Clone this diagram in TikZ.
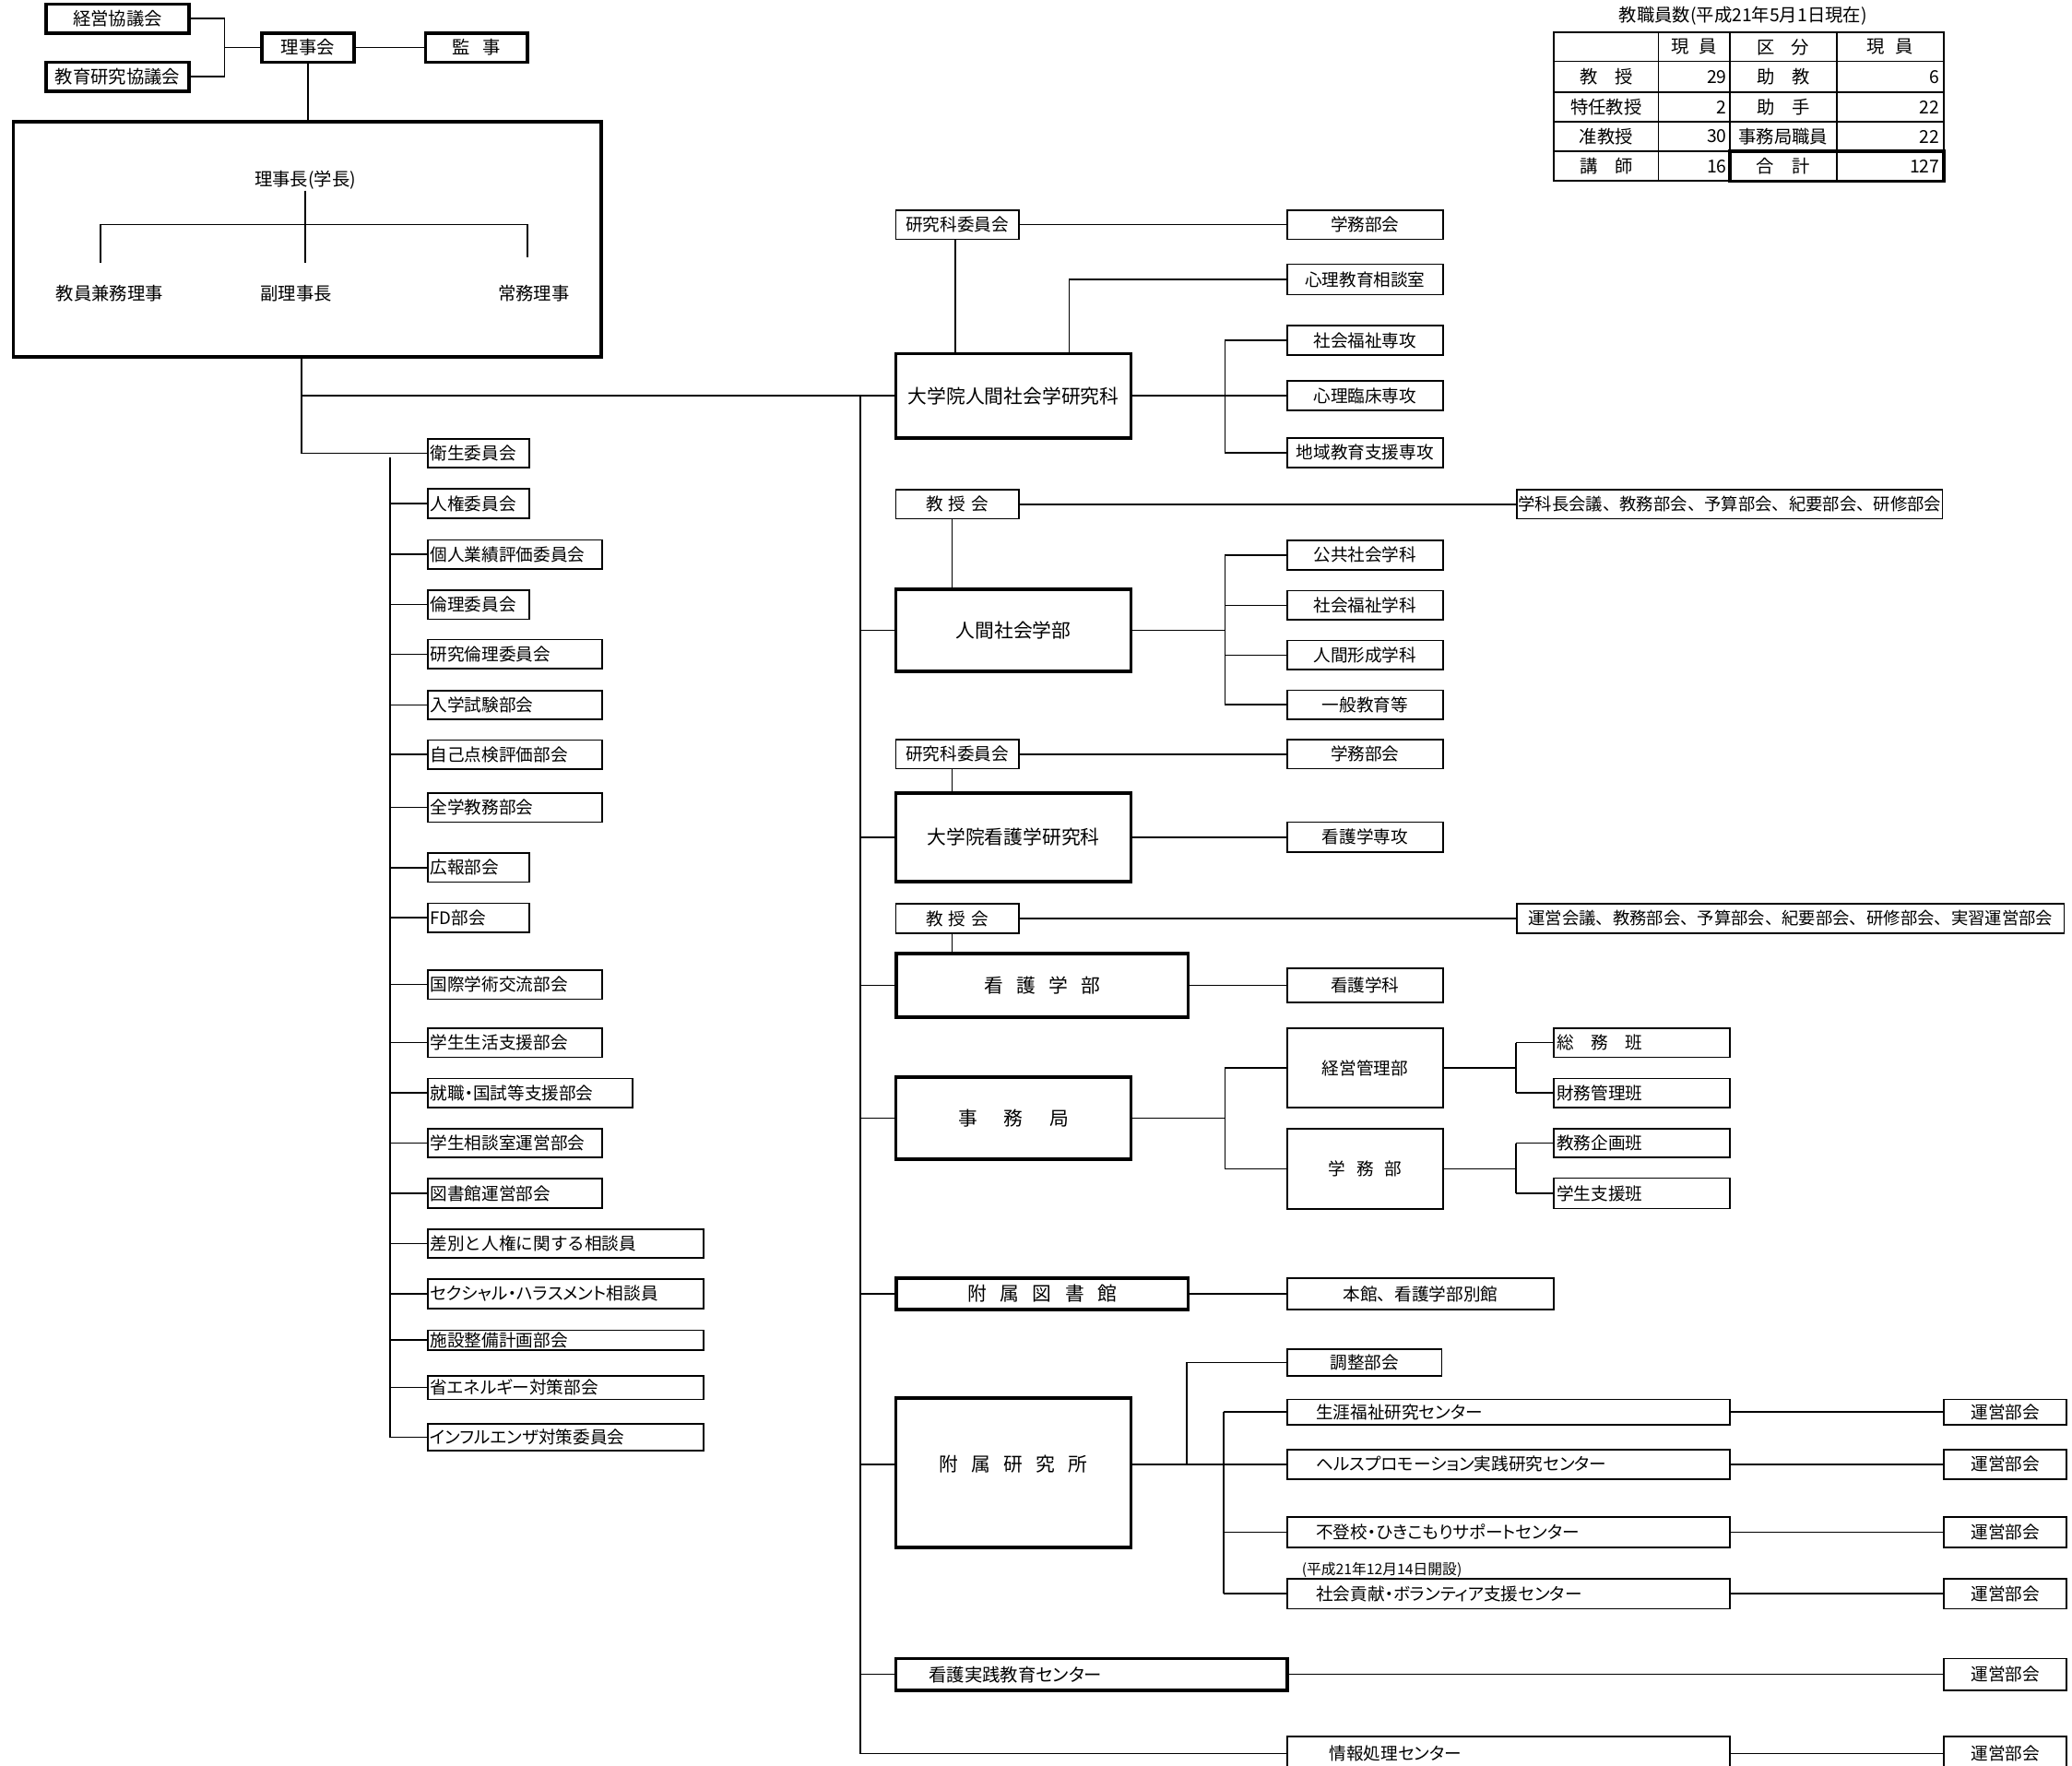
\documentclass[tikz,border=0pt]{standalone}
\usepackage{fontspec}
\setmainfont{Noto Sans CJK JP}
\newfontfamily\pfont{Noto Sans CJK JP}[RawFeature=+palt]
\newcommand{\fs}[1]{\fontsize{#1}{#1}\selectfont}
\newcommand{\gp}[1]{\hspace*{#1pt}}
\begin{document}
\begin{tikzpicture}[x=1pt,y=-1pt]
\tikzset{
 tn/.style={draw, line width=1.2pt, inner sep=0pt, font=\fs{13}},
 tk/.style={draw, line width=2.5pt, inner sep=0pt, font=\fs{13.5}},
 ln/.style={line width=1.1pt},
 wh/.style 2 args={minimum width=#1, minimum height=#2},
 lt/.style 2 args={text width=#1, inner xsep=#2, align=left},
 txt/.style={inner sep=1pt, font=\fs{13.5}},
 lc/.style={tn, anchor=west},
}
\useasboundingbox (0,0) rectangle (1568,1336);
\clip (0,0) rectangle (1568,1336);

% ---------- top left ----------
\node[tk, wh={108}{22}] (keiei) at (89,14) {経営協議会};
\node[tk, wh={108}{22}] (kyoiku) at (89,58) {教育研究協議会};
\node[tk, wh={70}{22}] (rijikai) at (233,36) {理事会};
\node[tk, wh={77}{22}] (kanji) at (360.5,36) {監\gp{10}事};
\node[tk, wh={445}{178}] (board) at (232.5,181) {};
\node[txt] (chair) at (231,136) {理事長(学長)};
\node[txt] (kyoin) at (83,222) {教員兼務理事};
\node[txt] (fuku) at (224,222) {副理事長};
\node[txt] (jomu) at (404,222) {常務理事};

\coordinate (j1) at (170,36);
\draw[ln] (keiei.east) -| (j1) |- (kyoiku.east);
\draw[ln] (j1) -- (rijikai.west);
\draw[ln] (rijikai.east) -- (kanji.west);
\draw[ln] (rijikai.south) -- (rijikai.south |- board.north);
\coordinate (hm2) at (231,199);
\coordinate (hl) at (76,170);
\coordinate (hr) at (399,170);
\coordinate (hl2) at (76,199);
\coordinate (hr2) at (399,195);
\draw[ln] (chair.south) -- (hm2);
\draw[ln] (hl2) -- (hl) -- (hr) -- (hr2);

% ---------- left column ----------
\node[lc, wh={77}{22}, lt={73}{2}] (eisei) at (323,343) {衛生委員会};
\node[lc, wh={77}{22}, lt={73}{2}] (jinken) at (323,381) {人権委員会};
\node[lc, wh={132}{22}, lt={128}{2}] (kojin) at (323,419.5) {個人業績評価委員会};
\node[lc, wh={77}{22}, lt={73}{2}] (rinri) at (323,457.5) {倫理委員会};
\node[lc, wh={132}{22}, lt={128}{2}] (kenrin) at (323,495) {研究倫理委員会};
\node[lc, wh={132}{22}, lt={128}{2}] (nyushi) at (323,533.5) {入学試験部会};
\node[lc, wh={132}{22}, lt={128}{2}] (jiko) at (323,571) {自己点検評価部会};
\node[lc, wh={132}{22}, lt={128}{2}] (zengaku) at (323,611) {全学教務部会};
\node[lc, wh={77}{22}, lt={73}{2}] (koho) at (323,656.5) {広報部会};
\node[lc, wh={77}{22}, lt={73}{2}] (fd) at (323,694.5) {FD部会};
\node[lc, wh={132}{22}, lt={128}{2}] (kokusai) at (323,745) {国際学術交流部会};
\node[lc, wh={132}{22}, lt={128}{2}] (seikatsu) at (323,789) {学生生活支援部会};
\node[lc, wh={155}{22}, lt={151}{2}] (shushoku) at (323,827) {就職{\pfont ・}国試等支援部会};
\node[lc, wh={132}{22}, lt={128}{2}] (soudan) at (323,865) {学生相談室運営部会};
\node[lc, wh={132}{22}, lt={128}{2}] (tosho) at (323,903) {図書館運営部会};
\node[lc, wh={209}{22}, lt={205}{2}] (sabetsu) at (323,941) {差別と人権に関する相談員};
\node[lc, wh={209}{22}, lt={205}{2}] (sekuhara) at (323,979) {\pfont セクシャル・ハラスメント相談員};
\node[lc, wh={209}{15}, lt={205}{2}] (shisetsu) at (323,1014) {施設整備計画部会};
\node[lc, wh={209}{18}, lt={205}{2}] (shoene) at (323,1050) {\pfont 省エネルギー対策部会};
\node[lc, wh={209}{20}, lt={205}{2}] (infl) at (323,1087.5) {\pfont インフルエンザ対策委員会};

\coordinate (bs) at (228,270);
\draw[ln] (bs) |- (eisei.west);
\coordinate (lb) at (295,346);
\draw[ln] (lb) -- (lb |- infl.west) -- (infl.west);
\foreach \n in {jinken,kojin,rinri,kenrin,nyushi,jiko,zengaku,koho,fd,kokusai,seikatsu,shushoku,soudan,tosho,sabetsu,sekuhara,shisetsu,shoene}
  \draw[ln] (lb |- \n.west) -- (\n.west);

% ---------- middle column ----------
\node[tn, wh={93}{22}] (kiin1) at (724.5,170) {研究科委員会};
\node[tn, wh={118}{22}] (gakumu1) at (1033,170) {学務部会};
\node[tn, wh={118}{23}] (shinri) at (1033,211.5) {心理教育相談室};
\node[tk, wh={178}{64}, font=\fs{14.5}] (dai1) at (767,299.5) {大学院人間社会学研究科};
\node[tn, wh={118}{22.5}] (fkssenko) at (1033,257.5) {社会福祉専攻};
\node[tn, wh={118}{22.5}] (rinsho) at (1033,299.5) {心理臨床専攻};
\node[tn, wh={118}{22.5}] (chiiki) at (1033,342.5) {地域教育支援専攻};

\node[tn, wh={93}{22}] (kyoju1) at (724.5,381.5) {教\gp{4}授\gp{4}会};
\node[tn, wh={322}{22}, font=\fs{12.8}] (kaigi1) at (1309,381.5) {学科長会議、教務部会、予算部会、紀要部会、研修部会};
\node[tk, wh={178}{62}, font=\fs{14.5}] (gakubu1) at (767,477) {人間社会学部};
\node[tn, wh={118}{22}] (kokyo) at (1033,420) {公共社会学科};
\node[tn, wh={118}{22}] (fkgakka) at (1033,458) {社会福祉学科};
\node[tn, wh={118}{22}] (keisei) at (1033,495.7) {人間形成学科};
\node[tn, wh={118}{22}] (ippan) at (1033,533.3) {一般教育等};

\node[tn, wh={93}{22}] (kiin2) at (724.5,570.7) {研究科委員会};
\node[tn, wh={118}{22}] (gakumu2) at (1033,570.7) {学務部会};
\node[tk, wh={178}{67}, font=\fs{14.5}] (dai2) at (767,633.5) {大学院看護学研究科};
\node[tn, wh={118}{23}] (kgsenko) at (1033,633.5) {看護学専攻};

\node[tn, wh={93}{22}] (kyoju2) at (724.5,695) {教\gp{4}授\gp{4}会};
\node[tn, wh={414}{22}, font=\fs{12.8}] (kaigi2) at (1355,695) {運営会議、教務部会、予算部会、紀要部会、研修部会、実習運営部会};
\node[tk, wh={221}{48}, font=\fs{14.5}] (gakubu2) at (788.75,745.5) {看\gp{10}護\gp{10}学\gp{10}部};
\node[tn, wh={118}{26}] (kggakka) at (1033,745.5) {看護学科};

\node[tk, wh={178}{62}, font=\fs{14.5}] (jimu) at (767,846) {事\gp{20}務\gp{20}局};
\node[tn, wh={118}{60}] (keikan) at (1033,808) {経営管理部};
\node[tn, wh={118}{61}] (gakumubu) at (1033,884.5) {学\gp{8}務\gp{8}部};
\node[tn, wh={133}{22}, lt={129}{2}] (somu) at (1242.5,789) {総\gp{13}務\gp{13}班};
\node[tn, wh={133}{22}, lt={129}{2}] (zaimu) at (1242.5,827) {財務管理班};
\node[tn, wh={133}{22}, lt={129}{2}] (kyokikaku) at (1242.5,865) {教務企画班};
\node[tn, wh={133}{23}, lt={129}{2}] (gshien) at (1242.5,903) {学生支援班};

\node[tk, wh={221}{24}, font=\fs{14.5}] (toshokan) at (788.75,979) {附\gp{10}属\gp{10}図\gp{10}書\gp{10}館};
\node[tn, wh={202}{24}] (honkan) at (1075,979) {本館、看護学部別館};

\node[tk, wh={178}{113}] (kenkyu) at (767,1114.5) {};
\node[txt, font=\fs{14.5}] (kentext) at (767,1108) {附\gp{10}属\gp{10}研\gp{10}究\gp{10}所};
\node[tn, wh={117}{20}] (chosei) at (1032.5,1031) {調整部会};
\node[tn, wh={335}{19}, lt={291}{22}] (shogai) at (1141.5,1068.5) {\pfont 生涯福祉研究センター};
\node[tn, wh={335}{22.5}, lt={291}{22}] (herusu) at (1141.5,1108) {\pfont ヘルスプロモーション実践研究センター};
\node[tn, wh={335}{23}, lt={291}{20}] (futoko) at (1141.5,1159.5) {\pfont 不登校・ひきこもりサポートセンター};
\node[font=\fs{11}, anchor=west, inner sep=0pt] (kaisetsu) at (985,1188) {(平成21年12月14日開設)};
\node[tn, wh={335}{22.5}, lt={291}{20}] (shakai) at (1141.5,1206) {\pfont 社会貢献・ボランティア支援センター};
\node[tk, wh={296}{24}, lt={246}{25}, font=\fs{13.5}] (jissen) at (826,1267) {\pfont 看護実践教育センター};
\node[tn, wh={335}{26}, lt={271}{32}] (joho) at (1141.5,1327) {\pfont 情報処理センター};

\node[tn, wh={93}{19}] (unei1) at (1517.5,1068.5) {運営部会};
\node[tn, wh={93}{22.5}] (unei2) at (1517.5,1108) {運営部会};
\node[tn, wh={93}{23}] (unei3) at (1517.5,1159.5) {運営部会};
\node[tn, wh={93}{22.5}] (unei4) at (1517.5,1206) {運営部会};
\node[tn, wh={93}{24}] (unei5) at (1517.5,1267) {運営部会};
\node[tn, wh={93}{26}] (unei6) at (1517.5,1327) {運営部会};

% main connectors
\draw[ln] (bs |- dai1.west) -- (dai1.west);
\coordinate (mb) at (651,299.5);
\draw[ln] (mb) -- (mb |- joho.west) -- (joho.west);
\foreach \n in {gakubu1,dai2,gakubu2,jimu,toshokan,jissen}
  \draw[ln] (mb |- \n.west) -- (\n.west);
\draw[ln] (mb |- kentext) -- (kenkyu.west |- kentext);

% dai1 group
\draw[ln] (kiin1.east) -- (gakumu1.west);
\draw[ln] ([xshift=-1.5pt]kiin1.south) -- ([xshift=-1.5pt]kiin1.south |- dai1.north);
\coordinate (sx) at (809,211.5);
\draw[ln] (sx |- dai1.north) -- (sx) -- (shinri.west);
\draw[ln] (dai1.east) -- (rinsho.west);
\coordinate (vx1) at (927,299.5);
\draw[ln] (vx1 |- fkssenko.west) -- (vx1 |- chiiki.west);
\draw[ln] (vx1 |- fkssenko.west) -- (fkssenko.west);
\draw[ln] (vx1 |- chiiki.west) -- (chiiki.west);

% gakubu1 group
\draw[ln] (kyoju1.east) -- (kaigi1.west);
\draw[ln] ([xshift=-4pt]kyoju1.south) -- ([xshift=-4pt]kyoju1.south |- gakubu1.north);
\coordinate (vx2) at (927,477);
\draw[ln] (gakubu1.east) -- (vx2);
\draw[ln] (vx2 |- kokyo.west) -- (vx2 |- ippan.west);
\foreach \n in {kokyo,fkgakka,keisei,ippan}
  \draw[ln] (vx2 |- \n.west) -- (\n.west);

% dai2 group
\draw[ln] (kiin2.east) -- (gakumu2.west);
\draw[ln] ([xshift=-4pt]kiin2.south) -- ([xshift=-4pt]kiin2.south |- dai2.north);
\draw[ln] (dai2.east) -- (kgsenko.west);

% gakubu2 group
\draw[ln] (kyoju2.east) -- (kaigi2.west);
\draw[ln] ([xshift=-4pt]kyoju2.south) -- ([xshift=-4pt]kyoju2.south |- gakubu2.north);
\draw[ln] (gakubu2.east) -- (kggakka.west);

% jimu group
\coordinate (vx3) at (927,846);
\draw[ln] (jimu.east) -- (vx3);
\draw[ln] (vx3 |- keikan.west) -- (vx3 |- gakumubu.west);
\draw[ln] (vx3 |- keikan.west) -- (keikan.west);
\draw[ln] (vx3 |- gakumubu.west) -- (gakumubu.west);
\coordinate (vx4) at (1147,808);
\draw[ln] (keikan.east) -- (vx4);
\draw[ln] (vx4 |- somu.west) -- (vx4 |- zaimu.west);
\draw[ln] (vx4 |- somu.west) -- (somu.west);
\draw[ln] (vx4 |- zaimu.west) -- (zaimu.west);
\coordinate (vx5) at (1147,884.5);
\draw[ln] (gakumubu.east) -- (vx5);
\draw[ln] (vx5 |- kyokikaku.west) -- (vx5 |- gshien.west);
\draw[ln] (vx5 |- kyokikaku.west) -- (kyokikaku.west);
\draw[ln] (vx5 |- gshien.west) -- (gshien.west);

% library
\draw[ln] (toshokan.east) -- (honkan.west);

% research institute
\draw[ln] (kenkyu.east |- kentext) -- (herusu.west);
\coordinate (vx6) at (898,1031);
\draw[ln] (vx6 |- kentext) -- (vx6) -- (chosei.west);
\coordinate (vx7) at (926,1068.5);
\draw[ln] (vx7 |- shogai.west) -- (vx7 |- shakai.west);
\foreach \n in {shogai,futoko,shakai}
  \draw[ln] (vx7 |- \n.west) -- (\n.west);
\draw[ln] (shogai.east) -- (unei1.west);
\draw[ln] (herusu.east) -- (unei2.west);
\draw[ln] (futoko.east) -- (unei3.west);
\draw[ln] (shakai.east) -- (unei4.west);
\draw[ln] (jissen.east) -- (unei5.west);
\draw[ln] (joho.east) -- (unei6.west);

% ---------- staff table ----------
\node[txt] (ttitle) at (1319,12) {教職員数(平成21年5月1日現在)};
\draw[line width=1.3pt] (1176,24.5) rectangle (1471,137);
\foreach \yy in {46.5,70,92,114.5} \draw[line width=1.2pt] (1176,\yy) -- (1471,\yy);
\foreach \xx in {1255,1309,1390} \draw[line width=1.2pt] (\xx,24.5) -- (\xx,137);
\draw[line width=2.5pt] (1309,114.5) rectangle (1471,137);
\node[txt] (h1) at (1282,35.5) {現\gp{8}員};
\node[txt] (h2) at (1349.5,35.5) {区\gp{12}分};
\node[txt] (h3) at (1430.5,35.5) {現\gp{8}員};
\node[txt] (a1) at (1215.5,58.3) {教\gp{13}授};
\node[txt] (a2) at (1215.5,81) {特任教授};
\node[txt] (a3) at (1215.5,103.3) {准教授};
\node[txt] (a4) at (1215.5,125.8) {講\gp{13}師};
\node[txt, anchor=east] (b1) at (1308,58.3) {29};
\node[txt, anchor=east] (b2) at (1308,81) {2};
\node[txt, anchor=east] (b3) at (1308,103.3) {30};
\node[txt, anchor=east] (b4) at (1308,125.8) {16};
\node[txt] (c1) at (1349.5,58.3) {助\gp{13}教};
\node[txt] (c2) at (1349.5,81) {助\gp{13}手};
\node[txt] (c3) at (1349.5,103.3) {事務局職員};
\node[txt] (c4) at (1349.5,125.8) {合\gp{14}計};
\node[txt, anchor=east] (d1) at (1469,58.3) {6};
\node[txt, anchor=east] (d2) at (1469,81) {22};
\node[txt, anchor=east] (d3) at (1469,103.3) {22};
\node[txt, anchor=east] (d4) at (1469,125.8) {127};
\end{tikzpicture}
\end{document}
